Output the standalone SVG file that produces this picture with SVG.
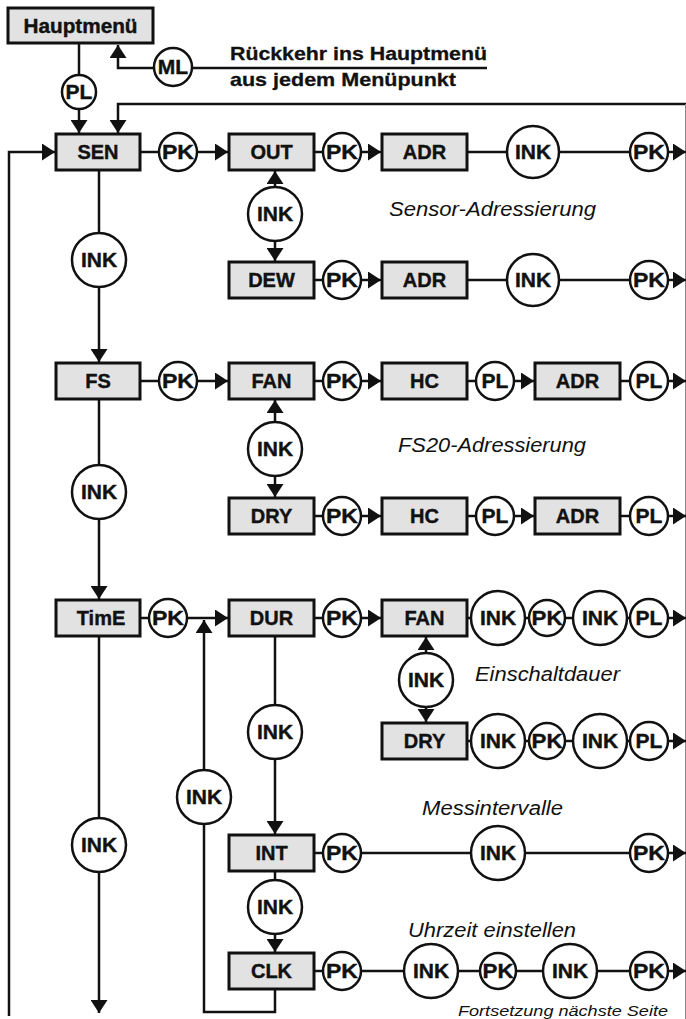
<svg xmlns="http://www.w3.org/2000/svg" width="686" height="1019" viewBox="0 0 686 1019">
<style>
.box{fill:#e2e2e2;stroke:#111;stroke-width:3}
.c{fill:#fff;stroke:#111;stroke-width:2.5}
.ln{fill:none;stroke:#111;stroke-width:2.5}
.t{font-family:"Liberation Sans",Arial,sans-serif;font-weight:bold;font-size:20px;text-anchor:middle;fill:#111;stroke:#111;stroke-width:0.4}
.ct{font-family:"Liberation Sans",Arial,sans-serif;font-weight:bold;font-size:21px;text-anchor:middle;fill:#111;stroke:#111;stroke-width:0.4}
.cap{font-family:"Liberation Sans",Arial,sans-serif;font-style:italic;font-size:20px;fill:#111}
.note{font-family:"Liberation Sans",Arial,sans-serif;font-weight:bold;font-size:19px;fill:#111;stroke:#111;stroke-width:0.3}
</style>
<defs>
<marker id="ah" markerUnits="userSpaceOnUse" markerWidth="13" markerHeight="17" viewBox="0 0 13 17" refX="13" refY="8.5" orient="auto">
<path d="M0,0 L13,8.5 L0,17 Z" fill="#111"/>
</marker>
</defs>
<rect width="686" height="1019" fill="#fff"/>

<g id="connectors">
<line class="ln" x1="79" y1="43" x2="79" y2="75"/>
<line class="ln" x1="79" y1="109" x2="79" y2="133" marker-end="url(#ah)"/>
<path class="ln" d="M154,68 H118 V45" marker-end="url(#ah)"/>
<line class="ln" x1="192" y1="68" x2="487" y2="68"/>
<path class="ln" d="M686,104 H118 V133" marker-end="url(#ah)"/>
<line x1="685.5" y1="104" x2="685.5" y2="1019" stroke="#888" stroke-width="1"/>
<path class="ln" d="M9,1016 V152 H55" marker-end="url(#ah)"/>
<line class="ln" x1="140" y1="152" x2="159" y2="152"/>
<line class="ln" x1="197" y1="152" x2="228" y2="152" marker-end="url(#ah)"/>
<line class="ln" x1="314" y1="152" x2="323" y2="152"/>
<line class="ln" x1="361" y1="152" x2="381" y2="152" marker-end="url(#ah)"/>
<line class="ln" x1="467" y1="152" x2="507" y2="152"/>
<line class="ln" x1="559" y1="152" x2="630" y2="152"/>
<line class="ln" x1="668" y1="152" x2="686" y2="152" marker-end="url(#ah)"/>
<line class="ln" x1="275" y1="187" x2="275" y2="171" marker-end="url(#ah)"/>
<line class="ln" x1="275" y1="241" x2="275" y2="261" marker-end="url(#ah)"/>
<line class="ln" x1="314" y1="280" x2="323" y2="280"/>
<line class="ln" x1="361" y1="280" x2="381" y2="280" marker-end="url(#ah)"/>
<line class="ln" x1="467" y1="280" x2="507" y2="280"/>
<line class="ln" x1="559" y1="280" x2="630" y2="280"/>
<line class="ln" x1="668" y1="280" x2="686" y2="280" marker-end="url(#ah)"/>
<line class="ln" x1="99" y1="170" x2="99" y2="233"/>
<line class="ln" x1="99" y1="287" x2="99" y2="362" marker-end="url(#ah)"/>
<line class="ln" x1="140" y1="381" x2="159" y2="381"/>
<line class="ln" x1="197" y1="381" x2="228" y2="381" marker-end="url(#ah)"/>
<line class="ln" x1="314" y1="381" x2="323" y2="381"/>
<line class="ln" x1="361" y1="381" x2="381" y2="381" marker-end="url(#ah)"/>
<line class="ln" x1="467" y1="381" x2="476" y2="381"/>
<line class="ln" x1="514" y1="381" x2="534" y2="381" marker-end="url(#ah)"/>
<line class="ln" x1="620" y1="381" x2="630" y2="381"/>
<line class="ln" x1="668" y1="381" x2="686" y2="381" marker-end="url(#ah)"/>
<line class="ln" x1="275" y1="422" x2="275" y2="400" marker-end="url(#ah)"/>
<line class="ln" x1="275" y1="476" x2="275" y2="497" marker-end="url(#ah)"/>
<line class="ln" x1="314" y1="516" x2="323" y2="516"/>
<line class="ln" x1="361" y1="516" x2="381" y2="516" marker-end="url(#ah)"/>
<line class="ln" x1="467" y1="516" x2="476" y2="516"/>
<line class="ln" x1="514" y1="516" x2="534" y2="516" marker-end="url(#ah)"/>
<line class="ln" x1="620" y1="516" x2="630" y2="516"/>
<line class="ln" x1="668" y1="516" x2="686" y2="516" marker-end="url(#ah)"/>
<line class="ln" x1="99" y1="399" x2="99" y2="465"/>
<line class="ln" x1="99" y1="519" x2="99" y2="599" marker-end="url(#ah)"/>
<line class="ln" x1="140" y1="618" x2="149" y2="618"/>
<line class="ln" x1="187" y1="618" x2="228" y2="618" marker-end="url(#ah)"/>
<line class="ln" x1="314" y1="618" x2="323" y2="618"/>
<line class="ln" x1="361" y1="618" x2="381" y2="618" marker-end="url(#ah)"/>
<line class="ln" x1="467" y1="618" x2="471" y2="618"/>
<line class="ln" x1="525" y1="618" x2="529" y2="618"/>
<line class="ln" x1="565" y1="618" x2="573" y2="618"/>
<line class="ln" x1="627" y1="618" x2="630" y2="618"/>
<line class="ln" x1="668" y1="618" x2="686" y2="618" marker-end="url(#ah)"/>
<line class="ln" x1="426" y1="653" x2="426" y2="637" marker-end="url(#ah)"/>
<line class="ln" x1="426" y1="707" x2="426" y2="722" marker-end="url(#ah)"/>
<line class="ln" x1="467" y1="741" x2="471" y2="741"/>
<line class="ln" x1="525" y1="741" x2="529" y2="741"/>
<line class="ln" x1="565" y1="741" x2="573" y2="741"/>
<line class="ln" x1="627" y1="741" x2="630" y2="741"/>
<line class="ln" x1="668" y1="741" x2="686" y2="741" marker-end="url(#ah)"/>
<line class="ln" x1="275" y1="636" x2="275" y2="705"/>
<line class="ln" x1="275" y1="759" x2="275" y2="834" marker-end="url(#ah)"/>
<line class="ln" x1="314" y1="853" x2="323" y2="853"/>
<line class="ln" x1="361" y1="853" x2="471" y2="853"/>
<line class="ln" x1="525" y1="853" x2="630" y2="853"/>
<line class="ln" x1="668" y1="853" x2="686" y2="853" marker-end="url(#ah)"/>
<line class="ln" x1="275" y1="871" x2="275" y2="880"/>
<line class="ln" x1="275" y1="934" x2="275" y2="952" marker-end="url(#ah)"/>
<line class="ln" x1="314" y1="971" x2="323" y2="971"/>
<line class="ln" x1="361" y1="971" x2="404" y2="971"/>
<line class="ln" x1="458" y1="971" x2="480" y2="971"/>
<line class="ln" x1="516" y1="971" x2="543" y2="971"/>
<line class="ln" x1="597" y1="971" x2="630" y2="971"/>
<line class="ln" x1="668" y1="971" x2="686" y2="971" marker-end="url(#ah)"/>
<path class="ln" d="M275,989 V1012 H204 V824"/>
<line class="ln" x1="204" y1="770" x2="204" y2="620" marker-end="url(#ah)"/>
<line class="ln" x1="99" y1="636" x2="99" y2="818"/>
<line class="ln" x1="99" y1="872" x2="99" y2="1013" marker-end="url(#ah)"/>
</g>

<g id="n-hauptmenue"><rect class="box" x="8" y="8" width="145" height="35"/><text class="t" x="80.5" y="33" textLength="114" lengthAdjust="spacingAndGlyphs">Hauptmenü</text></g>
<g id="n-pl-top"><circle class="c" cx="79" cy="92" r="17"/><text class="ct" x="79" y="99">PL</text></g>
<g id="n-ml"><circle class="c" cx="173" cy="67" r="19"/><text class="ct" x="173" y="74">ML</text></g>
<g id="note-return">
<text class="note" x="230" y="60" textLength="257" lengthAdjust="spacingAndGlyphs">Rückkehr ins Hauptmenü</text>
<text class="note" x="230" y="86" textLength="226" lengthAdjust="spacingAndGlyphs">aus jedem Menüpunkt</text>
</g>

<g id="n-sen"><rect class="box" x="56" y="134" width="84" height="36"/><text class="t" x="98" y="159">SEN</text></g>
<g id="n-sen-pk"><circle class="c" cx="178" cy="152" r="19"/><text class="ct" x="178" y="159" textLength="32" lengthAdjust="spacingAndGlyphs">PK</text></g>
<g id="n-out"><rect class="box" x="229" y="134" width="85" height="36"/><text class="t" x="271.5" y="159">OUT</text></g>
<g id="n-out-pk"><circle class="c" cx="342" cy="152" r="19"/><text class="ct" x="342" y="159" textLength="32" lengthAdjust="spacingAndGlyphs">PK</text></g>
<g id="n-adr1"><rect class="box" x="382" y="134" width="85" height="36"/><text class="t" x="424.5" y="159">ADR</text></g>
<g id="n-adr1-ink"><circle class="c" cx="533" cy="152" r="26"/><text class="ct" x="533" y="159">INK</text></g>
<g id="n-adr1-pk"><circle class="c" cx="649" cy="152" r="19"/><text class="ct" x="649" y="159" textLength="32" lengthAdjust="spacingAndGlyphs">PK</text></g>
<g id="n-out-ink"><circle class="c" cx="275" cy="214" r="27"/><text class="ct" x="275" y="221">INK</text></g>
<text class="cap" x="389" y="216" textLength="207" lengthAdjust="spacingAndGlyphs">Sensor-Adressierung</text>

<g id="n-dew"><rect class="box" x="229" y="262" width="85" height="36"/><text class="t" x="271.5" y="287">DEW</text></g>
<g id="n-dew-pk"><circle class="c" cx="342" cy="280" r="19"/><text class="ct" x="342" y="287" textLength="32" lengthAdjust="spacingAndGlyphs">PK</text></g>
<g id="n-adr2"><rect class="box" x="382" y="262" width="85" height="36"/><text class="t" x="424.5" y="287">ADR</text></g>
<g id="n-adr2-ink"><circle class="c" cx="533" cy="280" r="26"/><text class="ct" x="533" y="287">INK</text></g>
<g id="n-adr2-pk"><circle class="c" cx="649" cy="280" r="19"/><text class="ct" x="649" y="287" textLength="32" lengthAdjust="spacingAndGlyphs">PK</text></g>
<g id="n-sen-ink"><circle class="c" cx="99" cy="260" r="27"/><text class="ct" x="99" y="267">INK</text></g>

<g id="n-fs"><rect class="box" x="56" y="363" width="84" height="36"/><text class="t" x="98" y="388">FS</text></g>
<g id="n-fs-pk"><circle class="c" cx="178" cy="381" r="19"/><text class="ct" x="178" y="388" textLength="32" lengthAdjust="spacingAndGlyphs">PK</text></g>
<g id="n-fan1"><rect class="box" x="229" y="363" width="85" height="36"/><text class="t" x="271.5" y="388">FAN</text></g>
<g id="n-fan1-pk"><circle class="c" cx="342" cy="381" r="19"/><text class="ct" x="342" y="388" textLength="32" lengthAdjust="spacingAndGlyphs">PK</text></g>
<g id="n-hc1"><rect class="box" x="382" y="363" width="85" height="36"/><text class="t" x="424.5" y="388">HC</text></g>
<g id="n-hc1-pl"><circle class="c" cx="495" cy="381" r="19"/><text class="ct" x="495" y="388">PL</text></g>
<g id="n-adr3"><rect class="box" x="535" y="363" width="85" height="36"/><text class="t" x="577.5" y="388">ADR</text></g>
<g id="n-adr3-pl"><circle class="c" cx="649" cy="381" r="19"/><text class="ct" x="649" y="388">PL</text></g>
<g id="n-fan1-ink"><circle class="c" cx="275" cy="449" r="27"/><text class="ct" x="275" y="456">INK</text></g>
<text class="cap" x="398" y="452" textLength="188" lengthAdjust="spacingAndGlyphs">FS20-Adressierung</text>

<g id="n-dry1"><rect class="box" x="229" y="498" width="85" height="36"/><text class="t" x="271.5" y="523">DRY</text></g>
<g id="n-dry1-pk"><circle class="c" cx="342" cy="516" r="19"/><text class="ct" x="342" y="523" textLength="32" lengthAdjust="spacingAndGlyphs">PK</text></g>
<g id="n-hc2"><rect class="box" x="382" y="498" width="85" height="36"/><text class="t" x="424.5" y="523">HC</text></g>
<g id="n-hc2-pl"><circle class="c" cx="495" cy="516" r="19"/><text class="ct" x="495" y="523">PL</text></g>
<g id="n-adr4"><rect class="box" x="535" y="498" width="85" height="36"/><text class="t" x="577.5" y="523">ADR</text></g>
<g id="n-adr4-pl"><circle class="c" cx="649" cy="516" r="19"/><text class="ct" x="649" y="523">PL</text></g>
<g id="n-fs-ink"><circle class="c" cx="99" cy="492" r="27"/><text class="ct" x="99" y="499">INK</text></g>

<g id="n-time"><rect class="box" x="56" y="600" width="84" height="36"/><text class="t" x="101" y="625">TimE</text></g>
<g id="n-time-pk"><circle class="c" cx="168" cy="618" r="19"/><text class="ct" x="168" y="625" textLength="32" lengthAdjust="spacingAndGlyphs">PK</text></g>
<g id="n-dur"><rect class="box" x="229" y="600" width="85" height="36"/><text class="t" x="271.5" y="625">DUR</text></g>
<g id="n-dur-pk"><circle class="c" cx="342" cy="618" r="19"/><text class="ct" x="342" y="625" textLength="32" lengthAdjust="spacingAndGlyphs">PK</text></g>
<g id="n-fan2"><rect class="box" x="382" y="600" width="85" height="36"/><text class="t" x="424.5" y="625">FAN</text></g>
<g id="n-fan2-ink1"><circle class="c" cx="498" cy="618" r="27"/><text class="ct" x="498" y="625">INK</text></g>
<g id="n-fan2-pk"><circle class="c" cx="547" cy="618" r="18"/><text class="ct" x="547" y="625" textLength="31" lengthAdjust="spacingAndGlyphs">PK</text></g>
<g id="n-fan2-ink2"><circle class="c" cx="600" cy="618" r="27"/><text class="ct" x="600" y="625">INK</text></g>
<g id="n-fan2-pl"><circle class="c" cx="649" cy="618" r="19"/><text class="ct" x="649" y="625">PL</text></g>
<g id="n-fan2-ink"><circle class="c" cx="426" cy="680" r="27"/><text class="ct" x="426" y="687">INK</text></g>
<text class="cap" x="475" y="681" textLength="145" lengthAdjust="spacingAndGlyphs">Einschaltdauer</text>

<g id="n-dry2"><rect class="box" x="382" y="723" width="85" height="36"/><text class="t" x="424.5" y="748">DRY</text></g>
<g id="n-dry2-ink1"><circle class="c" cx="498" cy="741" r="27"/><text class="ct" x="498" y="748">INK</text></g>
<g id="n-dry2-pk"><circle class="c" cx="547" cy="741" r="18"/><text class="ct" x="547" y="748" textLength="31" lengthAdjust="spacingAndGlyphs">PK</text></g>
<g id="n-dry2-ink2"><circle class="c" cx="600" cy="741" r="27"/><text class="ct" x="600" y="748">INK</text></g>
<g id="n-dry2-pl"><circle class="c" cx="649" cy="741" r="19"/><text class="ct" x="649" y="748">PL</text></g>
<g id="n-dur-ink"><circle class="c" cx="275" cy="732" r="27"/><text class="ct" x="275" y="739">INK</text></g>
<g id="n-loop-ink"><circle class="c" cx="204" cy="797" r="27"/><text class="ct" x="204" y="804">INK</text></g>
<text class="cap" x="422" y="815" textLength="141" lengthAdjust="spacingAndGlyphs">Messintervalle</text>

<g id="n-int"><rect class="box" x="229" y="835" width="85" height="36"/><text class="t" x="271.5" y="860">INT</text></g>
<g id="n-int-pk1"><circle class="c" cx="342" cy="853" r="19"/><text class="ct" x="342" y="860" textLength="32" lengthAdjust="spacingAndGlyphs">PK</text></g>
<g id="n-int-ink"><circle class="c" cx="498" cy="853" r="27"/><text class="ct" x="498" y="860">INK</text></g>
<g id="n-int-pk2"><circle class="c" cx="649" cy="853" r="19"/><text class="ct" x="649" y="860" textLength="32" lengthAdjust="spacingAndGlyphs">PK</text></g>
<g id="n-time-ink"><circle class="c" cx="99" cy="845" r="27"/><text class="ct" x="99" y="852">INK</text></g>
<g id="n-int-ink2"><circle class="c" cx="275" cy="907" r="27"/><text class="ct" x="275" y="914">INK</text></g>
<text class="cap" x="408" y="937" textLength="168" lengthAdjust="spacingAndGlyphs">Uhrzeit einstellen</text>

<g id="n-clk"><rect class="box" x="229" y="953" width="85" height="36"/><text class="t" x="271.5" y="978">CLK</text></g>
<g id="n-clk-pk1"><circle class="c" cx="342" cy="971" r="19"/><text class="ct" x="342" y="978" textLength="32" lengthAdjust="spacingAndGlyphs">PK</text></g>
<g id="n-clk-ink1"><circle class="c" cx="431" cy="971" r="27"/><text class="ct" x="431" y="978">INK</text></g>
<g id="n-clk-pk2"><circle class="c" cx="498" cy="971" r="18"/><text class="ct" x="498" y="978" textLength="31" lengthAdjust="spacingAndGlyphs">PK</text></g>
<g id="n-clk-ink2"><circle class="c" cx="570" cy="971" r="27"/><text class="ct" x="570" y="978">INK</text></g>
<g id="n-clk-pk3"><circle class="c" cx="649" cy="971" r="19"/><text class="ct" x="649" y="978" textLength="32" lengthAdjust="spacingAndGlyphs">PK</text></g>
<text class="cap" x="458" y="1016" style="font-size:14px" textLength="210" lengthAdjust="spacingAndGlyphs">Fortsetzung nächste Seite</text>
</svg>
